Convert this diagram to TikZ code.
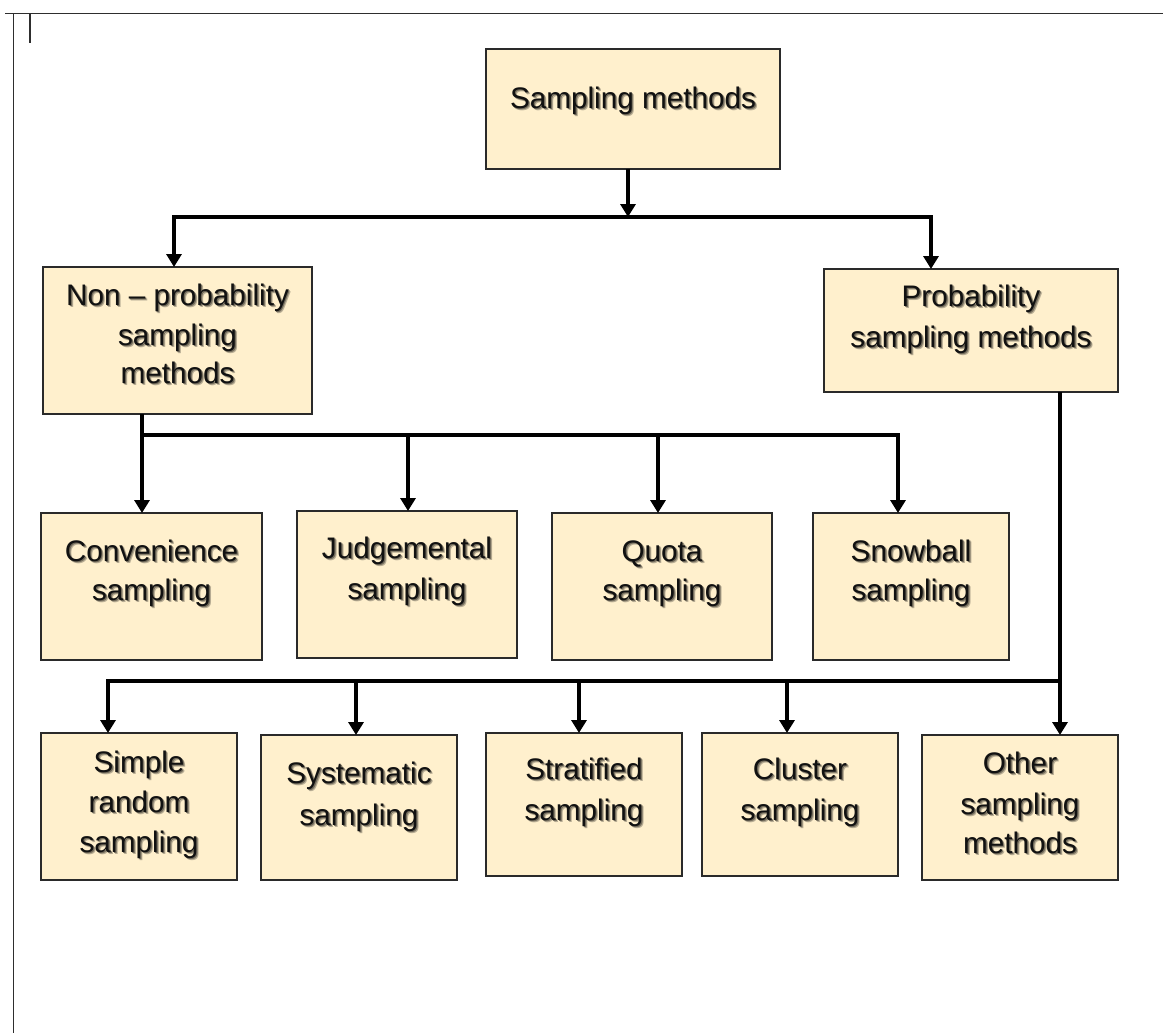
\documentclass[tikz,border=0pt]{standalone}
\usepackage{fontspec}
\setmainfont{Liberation Sans}
\usetikzlibrary{arrows.meta,fit}

\definecolor{boxfill}{HTML}{FFF0CD}
\definecolor{boxline}{HTML}{2A2A2A}
\definecolor{framegray}{HTML}{2E2E2E}
\definecolor{inkblack}{HTML}{111111}
\colorlet{shadenear}{boxfill!45!black}
\colorlet{shadefar}{boxfill!72!black}

\tikzset{
  box/.style={draw=boxline, line width=2.1pt, fill=boxfill, inner sep=0pt, outer sep=0pt},
  txt/.style={anchor=base, inner sep=0pt, text=inkblack,
              font=\fontsize{29.7}{39}\selectfont},
  conn/.style={line width=3.3pt, black, line join=miter},
  arr/.style={conn, -{Triangle[width=15pt,length=13pt]}},
  framestroke/.style={line width=1.7pt, draw=framegray}
}

% text with a soft drop shadow set behind it in the same box
\newcommand{\shadowed}[1]{%
  \rlap{\hspace{2.2pt}\raisebox{-2.2pt}{\color{shadefar}#1}}%
  \rlap{\hspace{1.2pt}\raisebox{-1.2pt}{\color{shadenear}#1}}%
  #1}
% a box spanning two corners
\newcommand{\mkbox}[5]{\node[box, fit={(#2,#3) (#4,#5)}] (#1) {};}
% one line of label text
\newcommand{\txtline}[4]{\node[txt] (#1) at (#2,#3) {\shadowed{#4}};}

\begin{document}
\begin{tikzpicture}[x=1pt,y=-1pt]
\useasboundingbox (0,0) rectangle (1163,1033);

% page frame
\draw[framestroke] (5,13.5) -- (1163,13.5);
\draw[framestroke] (13.5,13.5) -- (13.5,1033);
\draw[framestroke] (30,14) -- (30,43);

% boxes
\mkbox{sm}{486}{49}{780}{169}
\mkbox{np}{43}{267}{312}{414}
\mkbox{pr}{824}{269}{1118}{392}
\mkbox{cv}{41}{513}{262}{660}
\mkbox{jd}{297}{511}{517}{658}
\mkbox{qt}{552}{513}{772}{660}
\mkbox{sb}{813}{513}{1009}{660}
\mkbox{sr}{41}{733}{237}{880}
\mkbox{sy}{261}{735}{457}{880}
\mkbox{st}{486}{733}{682}{876}
\mkbox{cl}{702}{733}{898}{876}
\mkbox{ot}{922}{735}{1118}{880}

% labels
\txtline{smA}{633}{108}{Sampling methods}
\txtline{npA}{177.5}{305}{Non – probability}
\txtline{npB}{177.5}{345}{sampling}
\txtline{npC}{177.5}{383}{methods}
\txtline{prA}{971}{306}{Probability}
\txtline{prB}{971}{347}{sampling methods}
\txtline{cvA}{151.5}{561}{Convenience}
\txtline{cvB}{151.5}{600}{sampling}
\txtline{jdA}{407}{558}{Judgemental}
\txtline{jdB}{407}{599}{sampling}
\txtline{qtA}{662}{561}{Quota}
\txtline{qtB}{662}{600}{sampling}
\txtline{sbA}{911}{561}{Snowball}
\txtline{sbB}{911}{600}{sampling}
\txtline{srA}{139}{772}{Simple}
\txtline{srB}{139}{812}{random}
\txtline{srC}{139}{852}{sampling}
\txtline{syA}{359}{783}{Systematic}
\txtline{syB}{359}{825}{sampling}
\txtline{stA}{584}{779}{Stratified}
\txtline{stB}{584}{820}{sampling}
\txtline{clA}{800}{779}{Cluster}
\txtline{clB}{800}{820}{sampling}
\txtline{otA}{1020}{773}{Other}
\txtline{otB}{1020}{814}{sampling}
\txtline{otC}{1020}{853}{methods}

% junction points of the connector trees
\coordinate (j0) at (628,217);
\coordinate (hL) at (174,217);
\coordinate (hR) at (931,217);
\coordinate (n0) at (142,435);
\coordinate (n1) at (408,435);
\coordinate (n2) at (658,435);
\coordinate (n3) at (898,435);
\coordinate (p0) at (1060,681);
\coordinate (b0) at (108,681);
\coordinate (b1) at (356,681);
\coordinate (b2) at (579,681);
\coordinate (b3) at (787,681);

% top level
\draw[arr] (j0 |- sm.south) -- (j0);
\draw[arr] (hR) -- (hL) -- (hL |- np.north);
\draw[arr] (hL) -- (hR) -- (hR |- pr.north);

% non-probability branch
\draw[conn] (n0 |- np.south) -- (n0);
\draw[arr] (n0) -- (n0 |- cv.north);
\draw[arr] (n1) -- (n1 |- jd.north);
\draw[arr] (n2) -- (n2 |- qt.north);
\draw[arr] (n0) -- (n3) -- (n3 |- sb.north);

% probability branch
\draw[arr] (p0 |- pr.south) -- (p0 |- ot.north);
\draw[arr] (p0) -- (b0) -- (b0 |- sr.north);
\draw[arr] (b1) -- (b1 |- sy.north);
\draw[arr] (b2) -- (b2 |- st.north);
\draw[arr] (b3) -- (b3 |- cl.north);
\end{tikzpicture}
\end{document}
